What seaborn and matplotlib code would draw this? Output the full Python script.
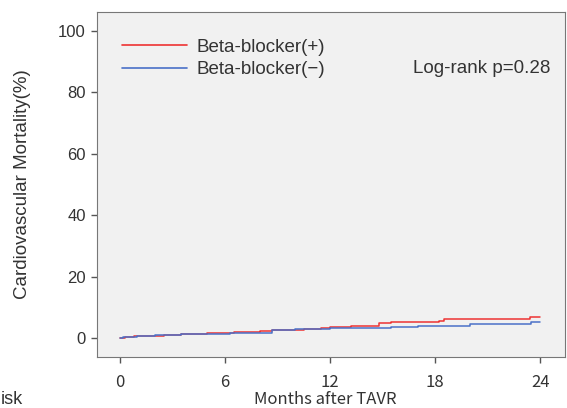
import matplotlib
matplotlib.use("Agg")
import matplotlib.pyplot as plt
import seaborn as sns
import pandas as pd

# step curves (months, cumulative %)
bb_pos_months = [0, 0.3, 0.8, 1.5, 2.5, 3.5, 5.0, 6.5, 8.0, 8.7, 10.5, 11.5, 12.0, 13.2, 14.8, 15.5, 18.2, 18.5, 21.0, 23.4, 24.0]
bb_pos_values = [0, 0.4, 0.6, 0.8, 1.0, 1.2, 1.5, 1.8, 2.3, 2.7, 3.0, 3.3, 3.7, 3.9, 5.0, 5.3, 5.6, 6.1, 6.3, 6.8, 6.8]
bb_neg_months = [0, 0.2, 1.0, 2.0, 3.5, 5.0, 6.3, 8.7, 10.0, 12.0, 14.0, 15.5, 17.0, 18.5, 20.0, 21.0, 23.5, 24.0]
bb_neg_values = [0, 0.3, 0.6, 0.9, 1.2, 1.4, 1.7, 2.6, 2.9, 3.3, 3.4, 3.6, 3.8, 4.0, 4.4, 4.6, 5.2, 5.2]

group_labels = ["Beta-blocker(+)", "Beta-blocker(\u2212)"]
group_colors = ["#ee3333", "#4a70c8"]
x_ticks = [0, 6, 12, 18, 24]
y_ticks = [0, 20, 40, 60, 80, 100]

df = pd.concat([
    pd.DataFrame({"month": bb_pos_months, "pct": bb_pos_values, "group": group_labels[0]}),
    pd.DataFrame({"month": bb_neg_months, "pct": bb_neg_values, "group": group_labels[1]}),
])

sns.set_style("ticks")
plt.rcParams["font.family"] = ["Liberation Sans", "DejaVu Sans"]
plt.rcParams["axes.edgecolor"] = "#777777"
plt.rcParams["xtick.color"] = "#555555"
plt.rcParams["ytick.color"] = "#555555"

jp_font = ["Noto Sans CJK JP", "DejaVu Sans"]

fig = plt.figure(figsize=(5.67, 4.08), dpi=100)
ax = fig.add_axes([0.171, 0.125, 0.825, 0.846])
ax.set_facecolor("#f1f1f1")

sns.lineplot(data=df, x="month", y="pct", hue="group", palette=group_colors,
             drawstyle="steps-post", linewidth=1.1, ax=ax, legend=False)

ax.set_xlim(-1.31, 25.4)
ax.set_ylim(-6.2, 106.2)
ax.set_xticks(x_ticks)
ax.set_yticks(y_ticks)
ax.set_xticklabels([str(t) for t in x_ticks], family=jp_font, fontsize=12, color="#333333")
ax.set_yticklabels([str(t) for t in y_ticks], fontsize=12, color="#333333")
ax.tick_params(axis="both", length=4, width=1)
ax.tick_params(axis="x", pad=8)
ax.tick_params(axis="y", pad=4)
ax.set_xlabel("Months after TAVR", family=jp_font, fontsize=12, color="#333333")
ax.xaxis.set_label_coords((325 - 97) / 468, -(391 - 357) / 345, transform=ax.transAxes)
ax.set_ylabel("Cardiovascular Mortality(%)", fontsize=13.5, color="#333333")
ax.yaxis.set_label_coords(-(97 - 31) / 468, 0.5, transform=ax.transAxes)

# legend drawn like the original: short lines with labels
handles = [plt.Line2D([], [], color=c, lw=1.2) for c in group_colors]
ax.legend(handles, group_labels, loc="upper left", bbox_to_anchor=(0.025, 0.961),
          frameon=False, fontsize=13.5, handlelength=3.5, handletextpad=0.5,
          labelspacing=0.3, borderaxespad=0.3, labelcolor="#333333")
ax.text(0.97, 0.835, "Log-rank p=0.28", transform=ax.transAxes, ha="right", va="center",
        fontsize=13.5, color="#333333")

# remnant of the cut-off risk table heading
fig.text(1 / 567, 1 - 399 / 408, "isk", ha="left", va="center",
         fontsize=13, color="#333333")

fig.savefig("out.png", dpi=100)
